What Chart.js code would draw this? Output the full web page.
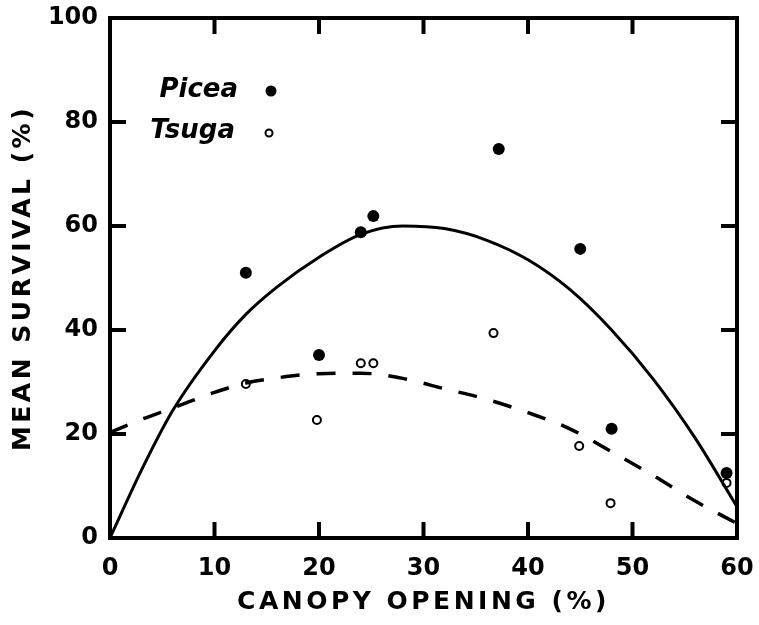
<!DOCTYPE html>
<html><head><meta charset="utf-8">
<script src="https://cdn.jsdelivr.net/npm/chart.js@4/dist/chart.umd.min.js"></script>
<style>html,body{margin:0;padding:0;background:#fff;}</style>
</head><body>
<canvas id="c" width="759" height="625"></canvas>
<script>
// ---- data ----
const piceaX = [13, 20, 24, 25.2, 37.2, 45, 48, 59];
const piceaY = [51, 35.2, 58.8, 61.9, 74.8, 55.6, 21, 12.5];
const tsugaX = [13, 19.8, 24, 25.2, 36.7, 44.9, 47.9, 59];
const tsugaY = [29.6, 22.7, 33.6, 33.6, 39.4, 17.7, 6.7, 10.6];
// fitted curves
const fitX = [0, 3, 6, 10, 13, 16, 20, 24, 28, 32, 36, 40, 44, 48, 52, 56, 60];
const piceaFitY = [0, 13, 24.5, 36, 43, 48.3, 54, 58.4, 60, 59.5, 57.3, 53.5, 47.8, 40, 30.5, 19.2, 6];
const tsugaFitY = [20.3, 22.8, 25, 28, 29.8, 30.8, 31.6, 31.7, 30.7, 28.7, 26.7, 24.1, 21, 16.6, 12, 7.1, 2.8];
const xTicks = [0, 10, 20, 30, 40, 50, 60];
const yTicks = [0, 20, 40, 60, 80, 100];
const legendLabels = ['Picea', 'Tsuga'];
const xTitle = 'CANOPY OPENING (%)';
const yTitle = 'MEAN SURVIVAL (%)';

const pts = (xs, ys) => xs.map((x, i) => ({x: x, y: ys[i]}));
const FONT = '"DejaVu Sans", sans-serif';

// wide letter spacing for the axis titles (tick/title layer drawn after the datasets: ticks.z = 1)
const titleSpacingPlugin = {
  id: 'titleSpacing',
  beforeDraw(chart) {
    ['x', 'y'].forEach(id => {
      const s = chart.scales[id];
      if (s && !s._lsPatched) {
        const orig = s.drawTitle.bind(s);
        s.drawTitle = function () {
          const c = this.ctx;
          c.save();
          c.letterSpacing = '3.5px';
          orig();
          c.restore();
        };
        s._lsPatched = true;
      }
    });
  }
};

const framePlugin = {
  id: 'frame',
  afterDraw(chart) {
    const ctx = chart.ctx, a = chart.chartArea;
    const xs = chart.scales.x, ys = chart.scales.y;
    ctx.save();
    ctx.strokeStyle = '#000';
    ctx.lineWidth = 4;
    ctx.lineCap = 'butt';
    ctx.setLineDash([]);
    ctx.strokeRect(a.left, a.top, a.right - a.left, a.bottom - a.top);
    const L = 16;
    ctx.beginPath();
    xTicks.slice(1, -1).forEach(v => {
      const p = xs.getPixelForValue(v);
      ctx.moveTo(p, a.bottom); ctx.lineTo(p, a.bottom - L);
      ctx.moveTo(p, a.top); ctx.lineTo(p, a.top + L);
    });
    yTicks.slice(1, -1).forEach(v => {
      const p = ys.getPixelForValue(v);
      ctx.moveTo(a.left, p); ctx.lineTo(a.left + L, p);
      ctx.moveTo(a.right, p); ctx.lineTo(a.right - L, p);
    });
    ctx.stroke();
    // legend
    ctx.fillStyle = '#000';
    ctx.font = 'italic bold 26px ' + FONT;
    ctx.textAlign = 'right';
    ctx.textBaseline = 'alphabetic';
    ctx.fillText(legendLabels[0], a.left + 128, a.top + 79);
    ctx.fillText(legendLabels[1], a.left + 125, a.top + 120);
    ctx.beginPath();
    ctx.arc(a.left + 161, a.top + 73, 5.5, 0, Math.PI * 2);
    ctx.fill();
    ctx.beginPath();
    ctx.lineWidth = 2;
    ctx.arc(a.left + 159, a.top + 115, 3.5, 0, Math.PI * 2);
    ctx.stroke();
    ctx.restore();
  }
};

new Chart(document.getElementById('c'), {
  type: 'line',
  data: {
    datasets: [
      {label: 'Picea fit', data: pts(fitX, piceaFitY), showLine: true, borderColor: '#000', borderWidth: 3, pointRadius: 0, cubicInterpolationMode: 'monotone', fill: false},
      {label: 'Tsuga fit', data: pts(fitX, tsugaFitY), showLine: true, borderColor: '#000', borderWidth: 3.5,
       borderDash: [19, 17], pointRadius: 0, cubicInterpolationMode: 'monotone', fill: false},
      {label: 'Picea', data: pts(piceaX, piceaY), showLine: false, pointRadius: 6, pointBackgroundColor: '#000', pointBorderColor: '#000', pointBorderWidth: 0},
      {label: 'Tsuga', data: pts(tsugaX, tsugaY), showLine: false, pointRadius: 4, pointBackgroundColor: '#fff', pointBorderColor: '#000', pointBorderWidth: 2}
    ]
  },
  options: {
    responsive: false,
    animation: false,
    layout: {padding: {top: 18, right: 22, left: 0, bottom: 0}},
    plugins: {legend: {display: false}, tooltip: {enabled: false}},
    scales: {
      x: {
        type: 'linear', min: 0, max: 60,
        afterBuildTicks: s => { s.ticks = xTicks.map(v => ({value: v})); },
        afterFit: s => { s.height = 87; s.paddingLeft = 0; s.paddingRight = 0; },
        grid: {display: false, drawTicks: false},
        border: {display: false},
        ticks: {z: 1, color: '#000', font: {family: FONT, size: 24, weight: 'bold'}, padding: 16, maxRotation: 0},
        title: {display: true, text: xTitle, color: '#000', font: {family: FONT, size: 25, weight: 'bold'}, padding: {top: 0, bottom: 8}}
      },
      y: {
        type: 'linear', min: 0, max: 100,
        afterBuildTicks: s => { s.ticks = yTicks.map(v => ({value: v})); },
        afterFit: s => { s.width = 110; s.paddingTop = 0; s.paddingBottom = 0; },
        grid: {display: false, drawTicks: false},
        border: {display: false},
        ticks: {z: 1, color: '#000', font: {family: FONT, size: 24, weight: 'bold'}, padding: 12},
        title: {display: true, text: yTitle, color: '#000', font: {family: FONT, size: 25, weight: 'bold'}, padding: {top: 8, bottom: 0}}
      }
    }
  },
  plugins: [titleSpacingPlugin, framePlugin]
});
</script>
</body></html>
